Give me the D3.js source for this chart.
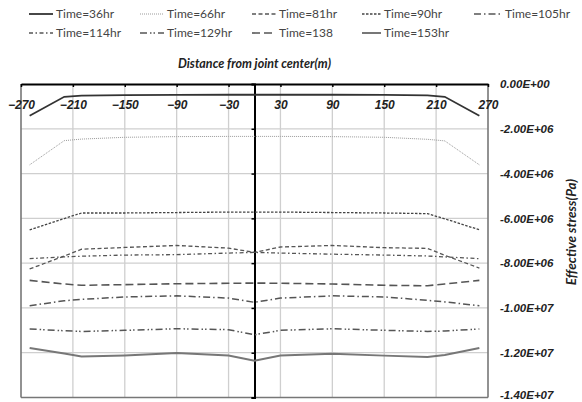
<!DOCTYPE html>
<html>
<head>
<meta charset="utf-8">
<script src="https://cdn.jsdelivr.net/npm/d3@7"></script>
<style>
  body { margin: 0; background: #fff; }
  svg { display: block; font-family: Lato, "Open Sans", sans-serif; }
  .lbl { font-weight: bold; font-style: italic; fill: #222; }
</style>
</head>
<body>
<svg id="main" width="582" height="402"></svg>
<script>
// distance from joint center (m)
const xPos = [-260, -220, -200, -150, -90, -30, 0, 30, 90, 150, 200, 220, 260];

// effective stress in units of 1e6 Pa
const t36 = [-1.42, -0.57, -0.52, -0.50, -0.49, -0.48, -0.48, -0.48, -0.48, -0.49, -0.51, -0.57, -1.42];
const t66 = [-3.61, -2.53, -2.46, -2.38, -2.35, -2.34, -2.34, -2.34, -2.35, -2.38, -2.47, -2.54, -3.61];
const t81 = [-8.26, -7.68, -7.38, -7.30, -7.21, -7.33, -7.52, -7.28, -7.21, -7.31, -7.34, -7.65, -8.22];
const t90 = [-6.51, -6.01, -5.76, -5.76, -5.74, -5.72, -5.72, -5.72, -5.74, -5.76, -5.79, -6.02, -6.51];
const t105 = [-9.90, -9.68, -9.62, -9.51, -9.46, -9.56, -9.75, -9.56, -9.46, -9.51, -9.66, -9.73, -9.90];
const t114 = [-7.80, -7.72, -7.69, -7.64, -7.62, -7.55, -7.52, -7.55, -7.60, -7.64, -7.68, -7.72, -7.80];
const t129 = [-10.94, -11.02, -11.05, -11.00, -10.93, -10.97, -11.20, -11.00, -10.93, -11.00, -11.05, -11.03, -10.94];
const t138 = [-8.77, -8.93, -8.99, -8.96, -8.92, -8.90, -8.89, -8.90, -8.93, -8.99, -9.01, -8.93, -8.77];
const t153 = [-11.79, -12.04, -12.17, -12.12, -12.01, -12.12, -12.36, -12.12, -12.05, -12.13, -12.19, -12.10, -11.79];

const seriesNames = ["Time=36hr", "Time=66hr", "Time=81hr", "Time=90hr", "Time=105hr",
  "Time=114hr", "Time=129hr", "Time=138", "Time=153hr"];
const seriesValues = [t36, t66, t81, t90, t105, t114, t129, t138, t153];

const xTicks = [-270, -210, -150, -90, -30, 30, 90, 150, 210, 270];
const yTicks = [0, -2e6, -4e6, -6e6, -8e6, -1e7, -1.2e7, -1.4e7];

const styles = [
  { color: "#333", width: 1.8, dash: null },
  { color: "#9a9a9a", width: 1, dash: "1,1" },
  { color: "#555", width: 1.3, dash: "4,2.5" },
  { color: "#444", width: 1.3, dash: "2.5,1.5" },
  { color: "#555", width: 1.5, dash: "7,3,1.5,3" },
  { color: "#555", width: 1.3, dash: "4,2.5,1.5,2.5" },
  { color: "#555", width: 1.5, dash: "7,3,1.5,2,1.5,3" },
  { color: "#555", width: 1.6, dash: "8,4" },
  { color: "#777", width: 2, dash: null }
];

const svg = d3.select("#main");
const pLeft = 21, pRight = 488, pTop = 84, pBottom = 397.5;

const x = d3.scaleLinear().domain([-270, 270]).range([pLeft, pRight]);
const y = d3.scaleLinear().domain([-1.4e7, 0]).range([pBottom, pTop]);

function fmt(v) {
  if (v === 0) return "0.00E+00";
  const [m, e] = v.toExponential(2).split("e");
  const n = +e;
  return m + "E" + (n < 0 ? "-" : "+") + String(Math.abs(n)).padStart(2, "0");
}

// grid
svg.append("g").selectAll("line")
  .data(yTicks.filter(d => d !== 0 && d !== -1.4e7))
  .enter().append("line")
  .attr("x1", pLeft).attr("x2", pRight)
  .attr("y1", d => y(d)).attr("y2", d => y(d))
  .attr("stroke", "#cfcfcf").attr("stroke-width", 1.3);
svg.append("g").selectAll("line")
  .data(xTicks.filter(d => Math.abs(d) !== 270))
  .enter().append("line")
  .attr("x1", d => x(d)).attr("x2", d => x(d))
  .attr("y1", pTop).attr("y2", pBottom)
  .attr("stroke", "#cfcfcf").attr("stroke-width", 1.3);

// frame
svg.append("line").attr("x1", pLeft).attr("x2", pLeft).attr("y1", pTop).attr("y2", pBottom)
  .attr("stroke", "#777").attr("stroke-width", 1.6);
svg.append("line").attr("x1", pRight).attr("x2", pRight).attr("y1", pTop).attr("y2", pBottom)
  .attr("stroke", "#777").attr("stroke-width", 1.6);
svg.append("line").attr("x1", pLeft).attr("x2", pRight).attr("y1", pBottom).attr("y2", pBottom)
  .attr("stroke", "#777").attr("stroke-width", 1.6);

// center axis with small ticks
const yAxisC = svg.append("g").attr("transform", `translate(${x(0)},0)`)
  .call(d3.axisLeft(y).tickValues(yTicks).tickSize(3).tickFormat(""));
yAxisC.select(".domain").attr("stroke", "#000").attr("stroke-width", 2);
yAxisC.selectAll(".tick line").attr("stroke", "#000").attr("stroke-width", 1.5);

// top x axis, labels inside
const xAxis = svg.append("g").attr("transform", `translate(0,${pTop})`)
  .call(d3.axisBottom(x).tickValues(xTicks).tickSizeInner(3).tickSizeOuter(0).tickPadding(13));
xAxis.select(".domain").attr("stroke", "#000").attr("stroke-width", 1.8);
xAxis.selectAll(".tick line").attr("stroke", "#000").attr("stroke-width", 1.5);
xAxis.selectAll("text").attr("class", "lbl").style("font-size", "12px");

// right y labels
const yAxisR = svg.append("g").attr("transform", `translate(${pRight},0)`)
  .call(d3.axisRight(y).tickValues(yTicks).tickSize(0).tickPadding(12).tickFormat(fmt));
yAxisR.select(".domain").remove();
yAxisR.selectAll("text").attr("class", "lbl").style("font-size", "11.5px");
yAxisR.selectAll("text").filter(d => d === -1.4e7).attr("dy", "0.1em");

// titles
svg.append("text").attr("class", "lbl")
  .attr("x", x(0)).attr("y", 68).attr("text-anchor", "middle")
  .style("font-size", "12.5px").text("Distance from joint center(m)");
svg.append("text").attr("class", "lbl")
  .attr("transform", "translate(576,232) rotate(-90)").attr("text-anchor", "middle")
  .style("font-size", "13.5px").text("Effective stress(Pa)");

// lines
const line = d3.line().x((d, i) => x(xPos[i])).y(d => y(d * 1e6));
seriesValues.forEach((vals, i) => {
  const s = styles[i];
  svg.append("path").datum(vals)
    .attr("d", line)
    .attr("fill", "none")
    .attr("stroke", s.color)
    .attr("stroke-width", s.width)
    .attr("stroke-dasharray", s.dash);
});

// legend
const legX = [29, 140, 252, 362, 474];
const legY = [14, 33];
const legLen = [24, 24, 24, 19, 28];
seriesNames.forEach((name, i) => {
  const col = i < 5 ? i : i - 5;
  const row = i < 5 ? 0 : 1;
  const s = styles[i];
  const len = legLen[col];
  const g = svg.append("g").attr("transform", `translate(${legX[col]},${legY[row]})`);
  g.append("line").attr("x1", 0).attr("x2", len).attr("y1", 0).attr("y2", 0)
    .attr("stroke", s.color).attr("stroke-width", s.width).attr("stroke-dasharray", s.dash);
  g.append("text").attr("x", len + 3).attr("y", 0).attr("dy", "0.35em")
    .style("font-size", "12px").attr("fill", "#444").text(name);
});
</script>
</body>
</html>
